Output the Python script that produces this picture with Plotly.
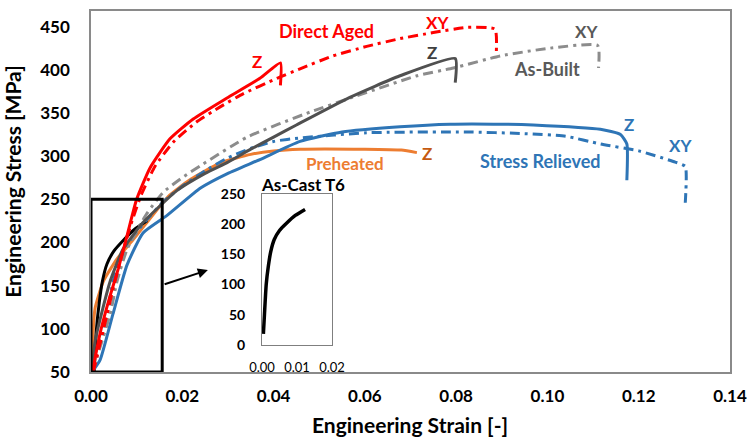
import plotly.graph_objects as go

# ---------------- data ----------------
da_z_strain = [0.0003, 0.002, 0.004, 0.006, 0.008, 0.010, 0.0129, 0.0173, 0.0224, 0.0297, 0.037, 0.0415, 0.0415]
da_z_stress = [50, 95, 135, 170, 210, 250, 286, 320, 343, 367, 390, 408, 382]

da_xy_strain = [0.0005, 0.003, 0.005, 0.007, 0.009, 0.011, 0.014, 0.018, 0.023, 0.0283, 0.0333, 0.0407, 0.0458,
                0.053, 0.0604, 0.0677, 0.075, 0.0823, 0.0885, 0.0888]
da_xy_stress = [50, 105, 150, 190, 225, 255, 288, 316, 339, 357, 372, 390, 401, 416, 427, 436, 443, 449, 447, 420]

ab_z_strain = [0.0003, 0.0009, 0.0042, 0.007, 0.0114, 0.0188, 0.025, 0.03, 0.035, 0.04, 0.045, 0.0567, 0.0677, 0.0798, 0.0798]
ab_z_stress = [50, 86, 155, 192, 223, 260, 280, 293, 308, 322, 336, 368, 393, 413, 385]

ab_xy_strain = [0.0003, 0.0013, 0.0042, 0.0057, 0.0079, 0.0123, 0.0158, 0.020, 0.0246, 0.0342, 0.048, 0.0567,
                0.0714, 0.0794, 0.0897, 0.1006, 0.111, 0.1112]
ab_xy_stress = [50, 67, 117, 155, 192, 234, 258, 275, 291, 322, 351, 367, 393, 402, 416, 425, 428, 402]

sr_z_strain = [0.0005, 0.002, 0.0048, 0.0079, 0.0114, 0.0166, 0.024, 0.030, 0.037, 0.0458, 0.055, 0.0677, 0.0787,
               0.090, 0.0969, 0.1116, 0.116, 0.1174, 0.1174]
sr_z_stress = [52, 64, 117, 174, 211, 231, 263, 280, 296, 317, 328, 334, 337, 337, 336, 331, 325, 314, 272]

sr_xy_strain = [0.0003, 0.002, 0.0035, 0.0048, 0.0064, 0.009, 0.012, 0.016, 0.020, 0.025, 0.030, 0.035, 0.040,
                0.0458, 0.0604, 0.0823, 0.095, 0.104, 0.1116, 0.120, 0.128, 0.1302, 0.1302]
sr_xy_stress = [50, 90, 117, 154, 180, 205, 225, 248, 265, 283, 298, 309, 317, 321, 327, 328, 326, 323, 314, 306,
                293, 288, 246]

ph_z_strain = [0.0002, 0.0005, 0.0009, 0.0027, 0.0057, 0.0092, 0.0151, 0.0173, 0.0215, 0.0283, 0.035, 0.040,
               0.0458, 0.060, 0.068, 0.0714]
ph_z_stress = [50, 100, 124, 155, 181, 203, 242, 255, 272, 292, 302, 306, 308, 308, 307, 304]

ac_strain = [0.0004, 0.0007, 0.0012, 0.0018, 0.0025, 0.0035, 0.005, 0.007, 0.0095, 0.0123]
ac_stress = [18, 50, 100, 130, 155, 175, 190, 202, 215, 225]

x_ticks = [0.00, 0.02, 0.04, 0.06, 0.08, 0.10, 0.12, 0.14]
y_ticks = [50, 100, 150, 200, 250, 300, 350, 400, 450]
inset_x_ticks = [0.00, 0.01, 0.02]
inset_y_ticks = [0, 50, 100, 150, 200, 250]

RED = "#FF0000"
DGRAY = "#505050"
LGRAY = "#8C8C8C"
BLUE = "#2E75B6"
ORANGE = "#ED7D31"
FONT = "Lato"

DASHDOT = "10px,5px,3px,5px"

fig = go.Figure()

def add(x, y, color, dash="solid", xa="x", ya="y", width=3):
    fig.add_trace(go.Scatter(x=x, y=y, mode="lines", xaxis=xa, yaxis=ya,
                             line=dict(color=color, width=width, dash=dash, shape="spline", smoothing=0.5),
                             showlegend=False, hoverinfo="skip"))

add(ph_z_strain, ph_z_stress, ORANGE)
add(ac_strain, ac_stress, "black")
add(sr_z_strain, sr_z_stress, BLUE)
add(sr_xy_strain, sr_xy_stress, BLUE, DASHDOT)
add(ab_xy_strain, ab_xy_stress, LGRAY, DASHDOT)
add(ab_z_strain, ab_z_stress, DGRAY)
add(da_xy_strain, da_xy_stress, RED, DASHDOT)
add(da_z_strain, da_z_stress, RED)
add(ac_strain, ac_stress, "black", xa="x2", ya="y2", width=3.5)

tickfont = dict(family=FONT, size=17, color="black", weight="bold")

fig.update_layout(
    width=749, height=440,
    margin=dict(l=91, r=19, t=2, b=68),
    paper_bgcolor="white", plot_bgcolor="white",
    font=dict(family=FONT),
    xaxis=dict(range=[0, 0.14], tickvals=x_ticks, ticktext=[f"{v:.2f}" for v in x_ticks],
               showgrid=False, zeroline=False, showline=True, mirror=True, linecolor="#8A8A8A", linewidth=1.5,
               ticks="", ticklabelstandoff=8, tickfont=tickfont),
    yaxis=dict(range=[50, 468], tickvals=y_ticks, ticktext=[str(v) for v in y_ticks],
               showgrid=False, zeroline=False, showline=True, mirror=True, linecolor="#8A8A8A", linewidth=1.5,
               ticks="", ticklabelstandoff=16, tickfont=tickfont),
    xaxis2=dict(domain=[0.2676, 0.3772], anchor="y2", range=[0, 0.02], tickvals=inset_x_ticks,
                ticktext=[f"{v:.2f}" for v in inset_x_ticks], showgrid=False, zeroline=False,
                showline=True, mirror=True, linecolor="#7F7F7F", linewidth=1, ticks="", ticklabelstandoff=11,
                tickfont=dict(family=FONT, size=13, color="black")),
    yaxis2=dict(domain=[0.0757, 0.4919], anchor="x2", range=[0, 250], tickvals=inset_y_ticks,
                ticktext=[str(v) for v in inset_y_ticks], showgrid=False, zeroline=False,
                showline=True, mirror=True, linecolor="#7F7F7F", linewidth=1, ticks="", ticklabelstandoff=13,
                tickfont=dict(family=FONT, size=14, color="black", weight="bold")),
)

# zoom box and arrow
fig.add_shape(type="rect", xref="x", yref="y", x0=0, x1=0.0156, y0=50, y1=250,
              line=dict(color="black", width=3))

ann = []
def label(text, x, y, color, size=17):
    ann.append(dict(text=text, xref="paper", yref="paper",
                    x=(x - 91) / 639, y=(372 - y) / 370, showarrow=False,
                    font=dict(family=FONT, size=size, color=color, weight="bold"),
                    xanchor="center", yanchor="middle"))

label("Direct Aged", 326, 22, RED, 18)
label("XY", 437, 14, RED)
label("Z", 257, 54, RED)
label("Z", 432, 45, "#404040")
label("XY", 586, 23, "#595959")
label("As-Built", 547, 61, "#595959", 18)
label("Preheated", 345, 158, ORANGE, 17)
label("Z", 427, 148, "#C55A11")
label("Stress Relieved", 540, 156, BLUE, 18)
label("Z", 629, 118, BLUE)
label("XY", 680, 140, BLUE)
label("As-Cast T6", 303, 180, "black", 17)

ann.append(dict(text="Engineering Strain [-]", xref="paper", yref="paper", x=(410 - 91) / 639,
                y=(372 - 426) / 370,
                showarrow=False, font=dict(family=FONT, size=21, color="black", weight="bold"),
                xanchor="center", yanchor="middle"))
ann.append(dict(text="Engineering Stress [MPa]", xref="paper", yref="paper", x=(13 - 91) / 639,
                y=(372 - 177) / 370,
                textangle=-90, showarrow=False, font=dict(family=FONT, size=21, color="black", weight="bold"),
                xanchor="center", yanchor="middle"))

ann.append(dict(x=0.0256, y=168, ax=0.0158, ay=151, xref="x", yref="y", axref="x", ayref="y",
                showarrow=True, arrowhead=2, arrowsize=1, arrowwidth=2, arrowcolor="black", text=""))

fig.update_layout(annotations=ann)

fig.write_html("out.html", config={"displayModeBar": False},
               post_script="document.body.style.margin='0';")
